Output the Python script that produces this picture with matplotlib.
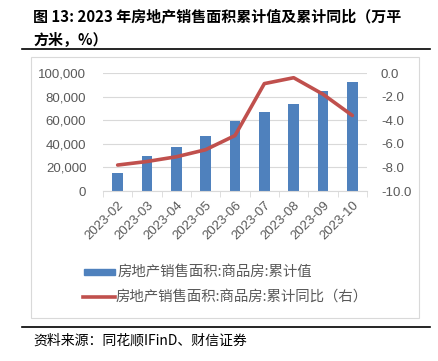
import matplotlib
matplotlib.use("Agg")
import matplotlib.pyplot as plt
from matplotlib.patches import Rectangle
from matplotlib.lines import Line2D
from matplotlib.ticker import FuncFormatter, FixedLocator

plt.rcParams['font.family'] = ['Liberation Sans', 'Noto Sans CJK SC', 'DejaVu Sans']

# 数据
months = ['2023-02', '2023-03', '2023-04', '2023-05', '2023-06',
          '2023-07', '2023-08', '2023-09', '2023-10']
area_cum = [15133, 29946, 37636, 46440, 59515, 66563, 73949, 84806, 92579]
area_yoy = [-7.8, -7.5, -7.1, -6.5, -5.3, -0.9, -0.4, -1.8, -3.6]

bar_color = '#4F81BD'
line_color = '#C0504D'
gray = '#595959'

fig = plt.figure(figsize=(4.39, 3.61), dpi=100)

# 标题
fig.text(33 / 439, 1 - 16 / 361, '图 13: 2023 年房地产销售面积累计值及累计同比（万平',
         fontsize=10.8, fontweight='bold', family=['Noto Sans CJK SC'], va='center')
fig.text(33 / 439, 1 - 40 / 361, '方米，%）',
         fontsize=10.8, fontweight='bold', family=['Noto Sans CJK SC'], va='center')

# 标题下横线和底部横线
fig.add_artist(Line2D([22 / 439, 430 / 439], [1 - 49 / 361] * 2, color='black', lw=1.2))
fig.add_artist(Line2D([22 / 439, 430 / 439], [1 - 327 / 361] * 2, color='black', lw=1.2))

# 图表边框
fig.add_artist(Rectangle((31 / 439, 1 - 318 / 361), (419 - 31) / 439, (318 - 57) / 361,
                         fill=False, edgecolor='#D9D9D9', lw=0.8))

ax = fig.add_axes([103 / 439, 1 - 191 / 361, (367 - 103) / 439, (191 - 73) / 361])
x = list(range(len(months)))
ax.bar(x, area_cum, width=0.36, color=bar_color, zorder=2)
ax.set_ylim(0, 100000)
ax.set_xlim(-0.5, len(months) - 0.5)
ax.set_yticks(range(0, 100001, 20000))
ax.yaxis.set_major_formatter(FuncFormatter(lambda v, p: '{:,.0f}'.format(v)))
ax.grid(axis='y', color='#D9D9D9', lw=0.8, zorder=0)
ax.set_axisbelow(True)
for s in ['top', 'right', 'left']:
    ax.spines[s].set_visible(False)
ax.spines['bottom'].set_color('#D9D9D9')
ax.tick_params(axis='y', length=0, labelsize=9.5, labelcolor=gray, pad=12)
ax.set_xticks(x)
ax.set_xticklabels(months, rotation=45, ha='right', rotation_mode='anchor')
ax.tick_params(axis='x', which='major', length=0, labelsize=9.5, labelcolor=gray, pad=6)
ax.xaxis.set_minor_locator(FixedLocator([i - 0.5 for i in range(len(months) + 1)]))
ax.tick_params(axis='x', which='minor', length=4, color='#D9D9D9')

ax2 = ax.twinx()
ax2.plot(x, area_yoy, color=line_color, lw=2.6, solid_capstyle='round', zorder=3)
ax2.set_ylim(-10, 0)
ax2.set_yticks(range(-10, 1, 2))
ax2.yaxis.set_major_formatter(FuncFormatter(lambda v, p: '{:.1f}'.format(v)))
for s in ['top', 'right', 'left', 'bottom']:
    ax2.spines[s].set_visible(False)
ax2.tick_params(axis='y', length=0, labelsize=9.5, labelcolor=gray, pad=10)

# 图例
fig.add_artist(Rectangle((84 / 439, 1 - 275 / 361), 31 / 439, 6 / 361,
                         color=bar_color, transform=fig.transFigure))
fig.text(118 / 439, 1 - 272 / 361, '房地产销售面积:商品房:累计值', fontsize=10.4,
         color=gray, va='center', family=['Noto Sans CJK SC'])
fig.add_artist(Line2D([83 / 439, 115 / 439], [1 - 297 / 361] * 2, color=line_color, lw=2.6))
fig.text(116 / 439, 1 - 297 / 361, '房地产销售面积:商品房:累计同比（右）', fontsize=10.4,
         color=gray, va='center', family=['Noto Sans CJK SC'])

# 资料来源
fig.text(33 / 439, 1 - 341 / 361, '资料来源：同花顺IFinD、财信证券', fontsize=10,
         style='italic', va='center', family=['Noto Sans CJK SC'])

fig.savefig('out.png', dpi=100)
